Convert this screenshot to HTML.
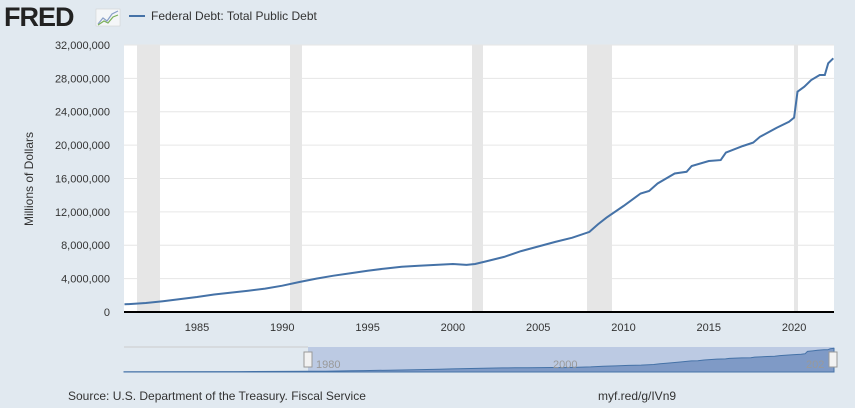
<!DOCTYPE html>
<html><head><style>
body{margin:0;width:855px;height:408px;background:#e1e9f0;font-family:"Liberation Sans",sans-serif;overflow:hidden;position:relative}
.t{position:absolute;font-size:12px;color:#333}
</style></head><body>
<svg width="855" height="408" style="position:absolute;left:0;top:0" id="s">
<text x="4" y="26" font-size="27" font-weight="bold" fill="#222" font-family="Liberation Sans" letter-spacing="-1">FRED</text>
<rect x="96" y="9" width="24" height="17" fill="#f4f6f8" stroke="#ccc" stroke-width="0.5"/>
<polyline points="98,24 103,18 107,21 112,14 118,11" fill="none" stroke="#8aa0c8" stroke-width="1.2"/>
<polyline points="98,25 104,21 108,23 113,17 118,15" fill="none" stroke="#7bb05a" stroke-width="1.2"/>
<line x1="129" y1="16" x2="145" y2="16" stroke="#4572a7" stroke-width="2"/>
<text x="151" y="20" font-size="12" fill="#333">Federal Debt: Total Public Debt</text>
<rect x="124" y="45" width="710" height="267" fill="#fff"/>
<g fill="#e6e6e6">
<rect x="137" y="45" width="23" height="267"/><rect x="290" y="45" width="12" height="267"/>
<rect x="472" y="45" width="11" height="267"/><rect x="587" y="45" width="25" height="267"/>
<rect x="794" y="45" width="4" height="267"/></g>
<g id="grid" stroke="#e6e6e6" stroke-width="1"></g>
<g id="yl" font-size="11" fill="#333" text-anchor="end"></g>
<g id="xl" font-size="11" fill="#333" text-anchor="middle"></g>
<line x1="124" y1="312" x2="834" y2="312" stroke="#000" stroke-width="2"/>
<polyline id="ln" fill="none" stroke="#4572a7" stroke-width="2"/>
<text transform="translate(33,179) rotate(-90)" font-size="12" fill="#333" text-anchor="middle">Millions of Dollars</text>
<rect x="124" y="347" width="710" height="25" fill="#e1e9f0"/>
<line x1="124" y1="347" x2="308" y2="347" stroke="#ccc"/>
<rect x="308" y="347" width="526" height="25" fill="#bccae3"/>
<path id="nav" fill="#7f9ac6" stroke="#4572a7" stroke-width="1"/>
<text x="316" y="368" font-size="11" fill="#999">1980</text>
<text x="553" y="368" font-size="11" fill="#999">2000</text>
<text x="806" y="368" font-size="11" fill="#999">202</text>
<rect x="304" y="352" width="8" height="15" fill="#f2f2f2" stroke="#999"/>
<rect x="829" y="352" width="8" height="15" fill="#f2f2f2" stroke="#999"/>
<text x="68" y="400" font-size="12" fill="#333">Source: U.S. Department of the Treasury. Fiscal Service</text>
<text x="598" y="400" font-size="12" fill="#333">myf.red/g/IVn9</text>
</svg>
<script>
var ns="http://www.w3.org/2000/svg";
function X(y){return 197+(y-1985)*17.06}
function Y(v){return 312-v*8.344}
var g=document.getElementById('grid'),yl=document.getElementById('yl'),xl=document.getElementById('xl');
for(var i=1;i<=8;i++){var y=Y(i*4);var l=document.createElementNS(ns,'line');l.setAttribute('x1',124);l.setAttribute('x2',834);l.setAttribute('y1',y);l.setAttribute('y2',y);g.appendChild(l);}
for(var i=0;i<=8;i++){var t=document.createElementNS(ns,'text');t.setAttribute('x',110);t.setAttribute('y',Y(i*4)+4);t.textContent=i==0?'0':(i*4).toLocaleString('en-US')+',000,000';yl.appendChild(t);}
for(var yr=1985;yr<=2020;yr+=5){var t=document.createElementNS(ns,'text');t.setAttribute('x',X(yr));t.setAttribute('y',331);t.textContent=yr;xl.appendChild(t);}
var d=[[1980.75,0.93],[1981,0.95],[1982,1.08],[1983,1.3],[1984,1.55],[1985,1.8],[1986,2.1],[1987,2.33],[1988,2.55],[1989,2.8],[1990,3.15],[1991,3.6],[1992,4.0],[1993,4.35],[1994,4.65],[1995,4.95],[1996,5.2],[1997,5.42],[1998,5.55],[1999,5.65],[2000,5.75],[2000.8,5.65],[2001.3,5.75],[2002,6.1],[2003,6.6],[2004,7.3],[2005,7.85],[2006,8.4],[2007,8.9],[2008,9.6],[2008.5,10.5],[2009,11.3],[2010,12.7],[2011,14.2],[2011.5,14.5],[2012,15.4],[2013,16.6],[2013.7,16.8],[2014,17.5],[2015,18.1],[2015.7,18.2],[2016,19.1],[2017,19.9],[2017.6,20.3],[2018,21.0],[2019,22.1],[2019.7,22.8],[2020,23.3],[2020.2,26.4],[2020.6,27.0],[2021,27.8],[2021.5,28.4],[2021.8,28.4],[2022,29.8],[2022.3,30.4]];
document.getElementById('ln').setAttribute('points',d.map(function(p){return X(p[0]).toFixed(1)+','+Y(p[1]).toFixed(1)}).join(' '));
function NX(y){return 124+(y-1966)*(710/56.3)}
function NY(v){return 372-v*0.78}
var nd=[[1966,0.32],[1975,0.55],[1980.75,0.93]].concat(d);
var p='M'+NX(1966)+',372 '+nd.map(function(q){return 'L'+NX(q[0]).toFixed(1)+','+NY(q[1]).toFixed(1)}).join(' ')+' L834,372 Z';
document.getElementById('nav').setAttribute('d',p);
</script>
</body></html>
